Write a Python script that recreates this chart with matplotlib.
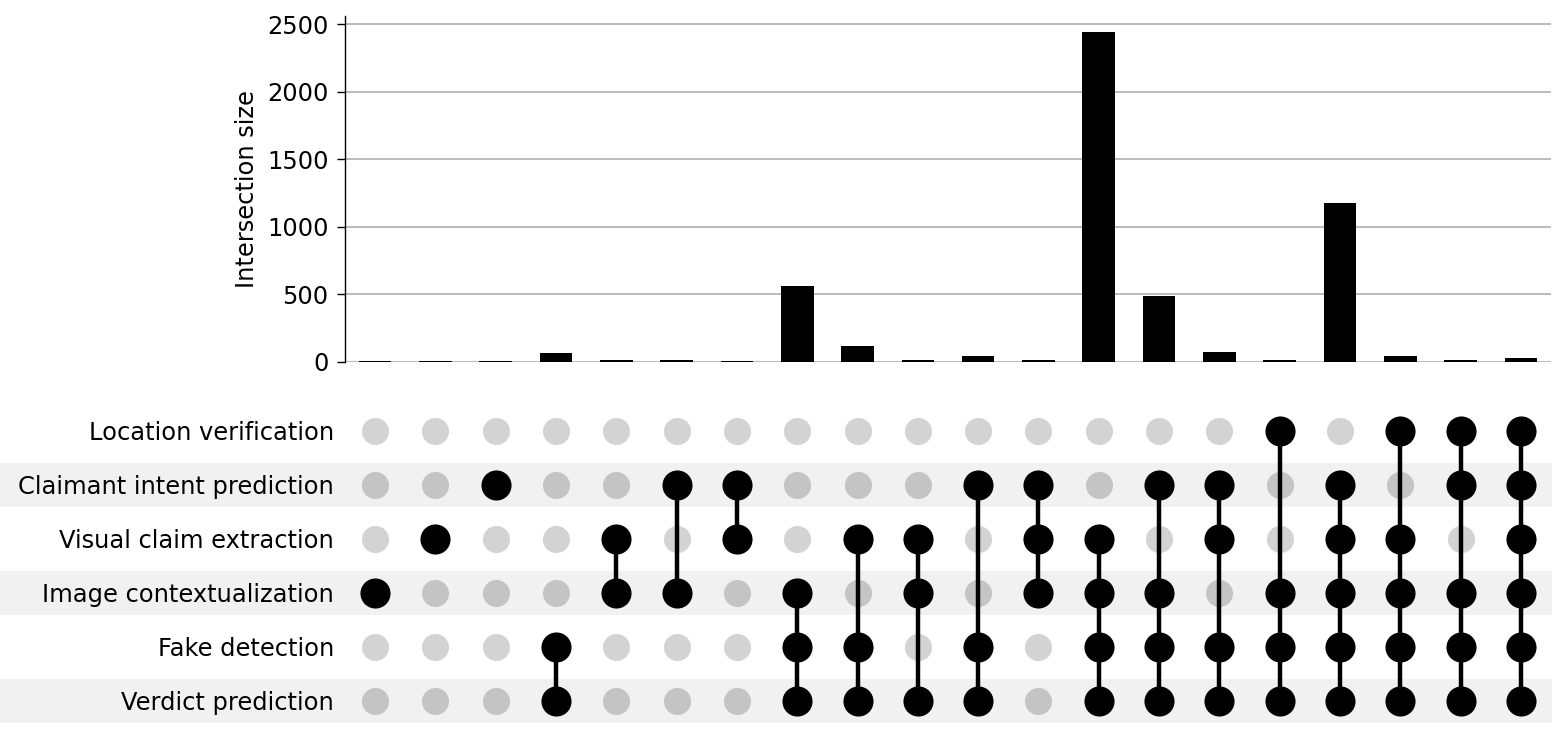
import matplotlib
matplotlib.use("Agg")
import matplotlib.pyplot as plt
import numpy as np

# Set names, top row to bottom row
set_names = ["Location verification", "Claimant intent prediction", "Visual claim extraction",
             "Image contextualization", "Fake detection", "Verdict prediction"]

# Intersection membership (columns left to right)
L, C, V, I, F, R = set_names
intersections = [
    [I],
    [V],
    [C],
    [F, R],
    [V, I],
    [C, I],
    [C, V],
    [I, F, R],
    [V, F, R],
    [V, I, R],
    [C, F, R],
    [C, V, I],
    [V, I, F, R],
    [C, I, F, R],
    [C, V, F, R],
    [L, I, F, R],
    [C, V, I, F, R],
    [L, V, I, F, R],
    [L, C, I, F, R],
    [L, C, V, I, F, R],
]
sizes = [6, 8, 6, 64, 15, 12, 7, 564, 118, 10, 45, 16, 2438, 490, 70, 12, 1172, 42, 12, 30]
yticks = [0, 500, 1000, 1500, 2000, 2500]

W, H = 1552, 730
fig = plt.figure(figsize=(W / 100, H / 100), dpi=100)

def fax(x0, y0, x1, y1):
    return fig.add_axes([x0 / W, 1 - y1 / H, (x1 - x0) / W, (y1 - y0) / H])

n = len(sizes)
xs = np.arange(n)
FS = 17.4

# Bar chart
axb = fax(345, 16, 1551, 361.7)
axb.bar(xs, sizes, width=0.54, color="black", zorder=3)
axb.set_xlim(-0.5, n - 0.5)
axb.set_ylim(0, max(sizes) * 1.05)
axb.set_yticks(yticks)
axb.yaxis.grid(True, color="#b0b0b0", linewidth=1.2, zorder=0)
axb.set_axisbelow(True)
for s in ["top", "right", "bottom"]:
    axb.spines[s].set_visible(False)
axb.spines["left"].set_linewidth(1.0)
axb.set_xticks([])
axb.tick_params(axis="y", labelsize=FS, length=6, width=1, pad=6)
axb.set_ylabel("Intersection size", fontsize=FS, labelpad=6)

# Matrix
nrows = len(set_names)
axm = fax(345, 404, 1551, 728)
axm.set_xlim(-0.5, n - 0.5)
axm.set_ylim(-0.5, nrows - 0.5)
axm.axis("off")

row_y = {name: nrows - 1 - i for i, name in enumerate(set_names)}
left_frac = -345 / 1206
for i, name in enumerate(set_names):
    y = row_y[name]
    if i % 2 == 1:
        axm.axhspan(y - 0.41, y + 0.41, xmin=left_frac, xmax=1.01, color="#f1f1f1",
                    zorder=0, clip_on=False, linewidth=0)
    axm.text(-0.68, y - 0.035, name, ha="right", va="center", fontsize=FS)

for j, members in enumerate(intersections):
    for i, name in enumerate(set_names):
        if name not in members:
            col = "#c4c4c4" if i % 2 == 1 else "#d3d3d3"
            axm.scatter(j, row_y[name], s=380, color=col, zorder=1, linewidths=0)
    ys = [row_y[m] for m in members]
    if len(ys) > 1:
        axm.plot([j, j], [min(ys), max(ys)], color="black", linewidth=3.2, zorder=2,
                 solid_capstyle="butt")
    axm.scatter([j] * len(ys), ys, s=470, color="black", zorder=3, linewidths=0)

fig.savefig("out.png", dpi=100)
